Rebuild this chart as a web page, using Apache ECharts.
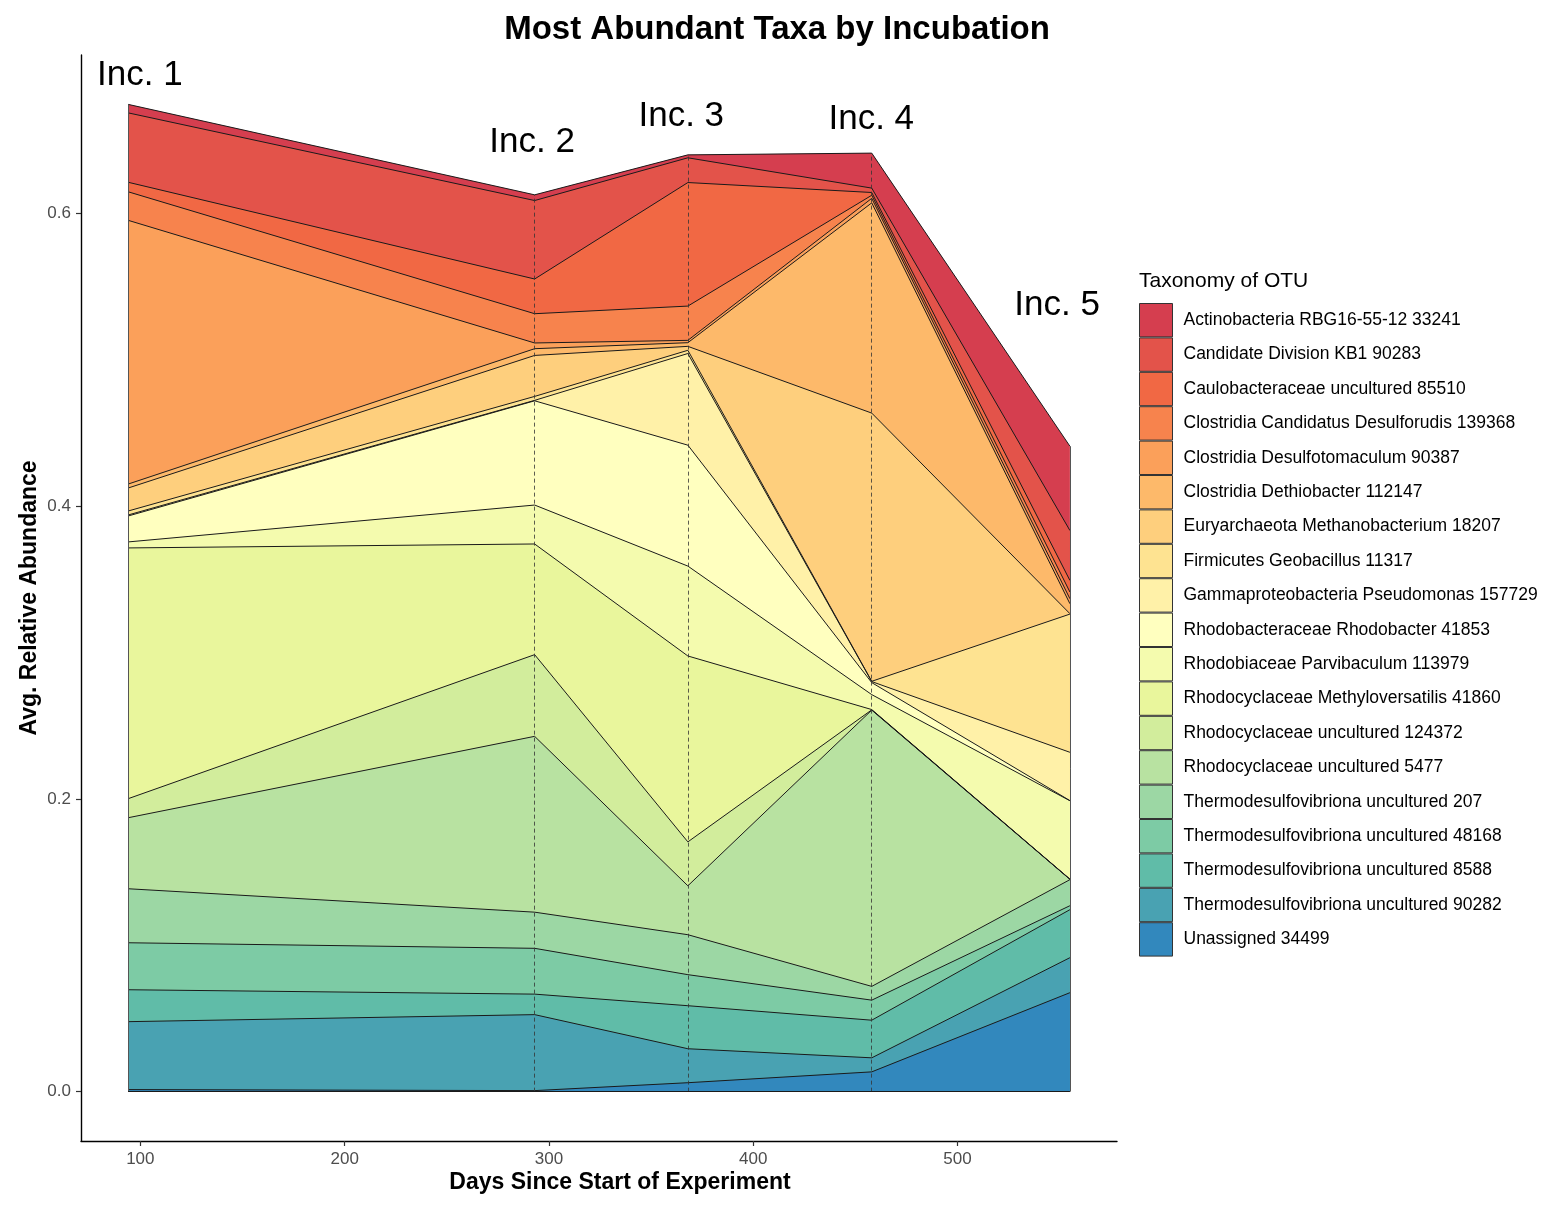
<!DOCTYPE html>
<html>
<head>
<meta charset="utf-8">
<title>Most Abundant Taxa by Incubation</title>
<script src="https://cdn.jsdelivr.net/npm/echarts@6/dist/echarts.min.js"></script>
<style>
  html, body { margin: 0; padding: 0; background: #fff; }
  #chart { width: 1567px; height: 1216px; }
</style>
</head>
<body>
<div id="chart"></div>
<script>
// sampling days (one per incubation)
var days = [94, 293, 368, 458, 555];

// taxa, in legend order (top of the stack first)
var taxa = [
  'Actinobacteria RBG16-55-12 33241',
  'Candidate Division KB1 90283',
  'Caulobacteraceae uncultured 85510',
  'Clostridia Candidatus Desulforudis 139368',
  'Clostridia Desulfotomaculum 90387',
  'Clostridia Dethiobacter 112147',
  'Euryarchaeota Methanobacterium 18207',
  'Firmicutes Geobacillus 11317',
  'Gammaproteobacteria Pseudomonas 157729',
  'Rhodobacteraceae Rhodobacter 41853',
  'Rhodobiaceae Parvibaculum 113979',
  'Rhodocyclaceae Methyloversatilis 41860',
  'Rhodocyclaceae uncultured 124372',
  'Rhodocyclaceae uncultured 5477',
  'Thermodesulfovibriona uncultured 207',
  'Thermodesulfovibriona uncultured 48168',
  'Thermodesulfovibriona uncultured 8588',
  'Thermodesulfovibriona uncultured 90282',
  'Unassigned 34499'
];

var palette = [
  '#D53E4F', '#E3534A', '#F16844', '#F7834D', '#FBA05A', '#FDB96A',
  '#FECF7D', '#FEE391', '#FFF1A8', '#FFFFBF', '#F4FBAE', '#E9F69C',
  '#D2ED9C', '#B8E2A1', '#9CD7A4', '#7DCBA5', '#60BCA8', '#49A2B2', '#3288BD'
];

// avg. relative abundance per incubation, same order as taxa
var inc1 = [0.0058, 0.0474, 0.0065, 0.0195, 0.1802, 0.0027, 0.0157, 0.0027, 0.0007, 0.0177,
            0.0041, 0.1713, 0.0130, 0.0485, 0.0369, 0.0321, 0.0218, 0.0464, 0.0014];
var inc2 = [0.0039, 0.0536, 0.0237, 0.0200, 0.0039, 0.0046, 0.0280, 0.0027, 0.0003, 0.0712,
            0.0266, 0.0756, 0.0558, 0.1201, 0.0247, 0.0313, 0.0140, 0.0519, 0.0007];
var inc3 = [0.0020, 0.0169, 0.0844, 0.0234, 0.0016, 0.0025, 0.0027, 0.0022, 0.0626, 0.0826,
            0.0614, 0.1270, 0.0300, 0.0334, 0.0273, 0.0212, 0.0294, 0.0232, 0.0061];
var inc4 = [0.0239, 0.0030, 0.0019, 0.0021, 0.0031, 0.1436, 0.1832, 0.0002, 0.0007, 0.0082,
            0.0102, 0.0002, 0.0002, 0.1887, 0.0094, 0.0137, 0.0257, 0.0096, 0.0135];
var inc5 = [0.0576, 0.0341, 0.0079, 0.0046, 0.0034, 0.0068, 0.0003, 0.0944, 0.0330, 0.0001,
            0.0535, 0.0001, 0.0001, 0.0002, 0.0178, 0.0027, 0.0328, 0.0239, 0.0676];
var incs = [inc1, inc2, inc3, inc4, inc5];

// incubation annotations
var incLabels = ['Inc. 1', 'Inc. 2', 'Inc. 3', 'Inc. 4', 'Inc. 5'];
var incLabelDays = [100, 292, 365, 458, 549];
var incLabelY = [0.694, 0.648, 0.666, 0.664, 0.537];

var xTicks = [100, 200, 300, 400, 500];
var yTicks = [0, 0.2, 0.4, 0.6];

var FONT = '"Liberation Sans", Arial, Helvetica, sans-serif';

// cumulative top of each band (stack runs from the last taxon upwards)
var tops = taxa.map(function (t, i) {
  return incs.map(function (v) {
    var s = 0;
    for (var k = i; k < v.length; k++) s += v[k];
    return s;
  });
});
var totals = tops[0];
var yMax = Math.max.apply(null, totals);
var xPad = (days[days.length - 1] - days[0]) * 0.05;

var series = [];
// filled areas: tallest first, each lower band painted over it
taxa.forEach(function (name, i) {
  series.push({
    name: name,
    type: 'line',
    color: palette[i],
    symbol: 'none',
    lineStyle: { width: 0 },
    areaStyle: { color: palette[i], opacity: 1, origin: 0 },
    data: days.map(function (d, k) { return [d, tops[i][k]]; }),
    z: 2,
    silent: true
  });
});
// outline of every band, drawn above all fills
taxa.forEach(function (name, i) {
  series.push({
    name: 'edge ' + i,
    type: 'line',
    symbol: 'none',
    lineStyle: { color: '#1a1a1a', width: 1 },
    data: days.map(function (d, k) { return [d, tops[i][k]]; }),
    z: 3,
    silent: true
  });
});

// vertical guides at each incubation
var guides = [];
days.forEach(function (d, k) {
  var edge = (k === 0 || k === days.length - 1);
  guides.push([
    { coord: [d, 0], lineStyle: edge ? { type: 'solid', color: '#555', width: 1 } : { type: [4, 3], color: '#333', width: 0.8 } },
    { coord: [d, totals[k]] }
  ]);
});
guides.push([
  { coord: [days[0], 0], lineStyle: { type: 'solid', color: '#1a1a1a', width: 1.2 } },
  { coord: [days[days.length - 1], 0] }
]);
series.push({
  name: 'guides',
  type: 'line',
  data: [],
  z: 4,
  silent: true,
  markLine: {
    silent: true,
    symbol: ['none', 'none'],
    label: { show: false },
    animation: false,
    data: guides
  }
});

series.push({
  name: 'inc labels',
  type: 'scatter',
  symbolSize: 1,
  itemStyle: { color: 'rgba(0,0,0,0)' },
  z: 5,
  silent: true,
  data: incLabels.map(function (t, k) { return [incLabelDays[k], incLabelY[k], t]; }),
  label: {
    show: true,
    position: [0, 0],
    align: 'center',
    verticalAlign: 'middle',
    formatter: function (p) { return p.value[2]; },
    fontFamily: FONT,
    fontSize: 35,
    color: '#000',
    textBorderWidth: 0,
    opacity: 1
  }
});

var chart = echarts.init(document.getElementById('chart'), null, { renderer: 'canvas' });
chart.setOption({
  animation: false,
  backgroundColor: '#fff',
  grid: { left: 81, right: 450, top: 55, bottom: 75, containLabel: false },
  xAxis: {
    type: 'value',
    min: days[0] - xPad,
    max: days[days.length - 1] + xPad,
    splitLine: { show: false },
    axisLine: { onZero: false, lineStyle: { color: '#000', width: 1.4 } },
    axisTick: { show: true, length: 5, lineStyle: { color: '#333', width: 1.2 }, customValues: xTicks },
    axisLabel: { customValues: xTicks, color: '#4D4D4D', fontSize: 17, fontFamily: FONT, margin: 10 }
  },
  yAxis: {
    type: 'value',
    min: -yMax * 0.05,
    max: yMax * 1.05,
    splitLine: { show: false },
    axisLine: { show: true, onZero: false, lineStyle: { color: '#000', width: 1.4 } },
    axisTick: { show: true, length: 5, lineStyle: { color: '#333', width: 1.2 }, customValues: yTicks },
    axisLabel: {
      customValues: yTicks, color: '#4D4D4D', fontSize: 17, fontFamily: FONT, margin: 10,
      formatter: function (v) { return v.toFixed(1); }
    }
  },
  legend: {
    orient: 'vertical',
    left: 1139,
    top: 303,
    padding: 0,
    icon: 'rect',
    itemWidth: 33,
    itemHeight: 33.4,
    itemGap: 0,
    data: taxa,
    selectedMode: false,
    itemStyle: { borderColor: '#333', borderWidth: 1 },
    textStyle: { fontFamily: FONT, fontSize: 17.5, color: '#000', padding: [0, 0, 0, 6] }
  },
  graphic: [
    { type: 'text', x: 777, y: 30, style: { text: 'Most Abundant Taxa by Incubation', font: 'bold 33px ' + FONT, fill: '#000', align: 'center', verticalAlign: 'middle' } },
    { type: 'text', x: 620, y: 1183, style: { text: 'Days Since Start of Experiment', font: 'bold 23px ' + FONT, fill: '#000', align: 'center', verticalAlign: 'middle' } },
    { type: 'text', x: 30, y: 598, rotation: Math.PI / 2, style: { text: 'Avg. Relative Abundance', font: 'bold 23px ' + FONT, fill: '#000', align: 'center', verticalAlign: 'middle' } },
    { type: 'text', x: 1139, y: 271, style: { text: 'Taxonomy of OTU', font: '21px ' + FONT, fill: '#000' } }
  ],
  series: series
});
</script>
</body>
</html>
